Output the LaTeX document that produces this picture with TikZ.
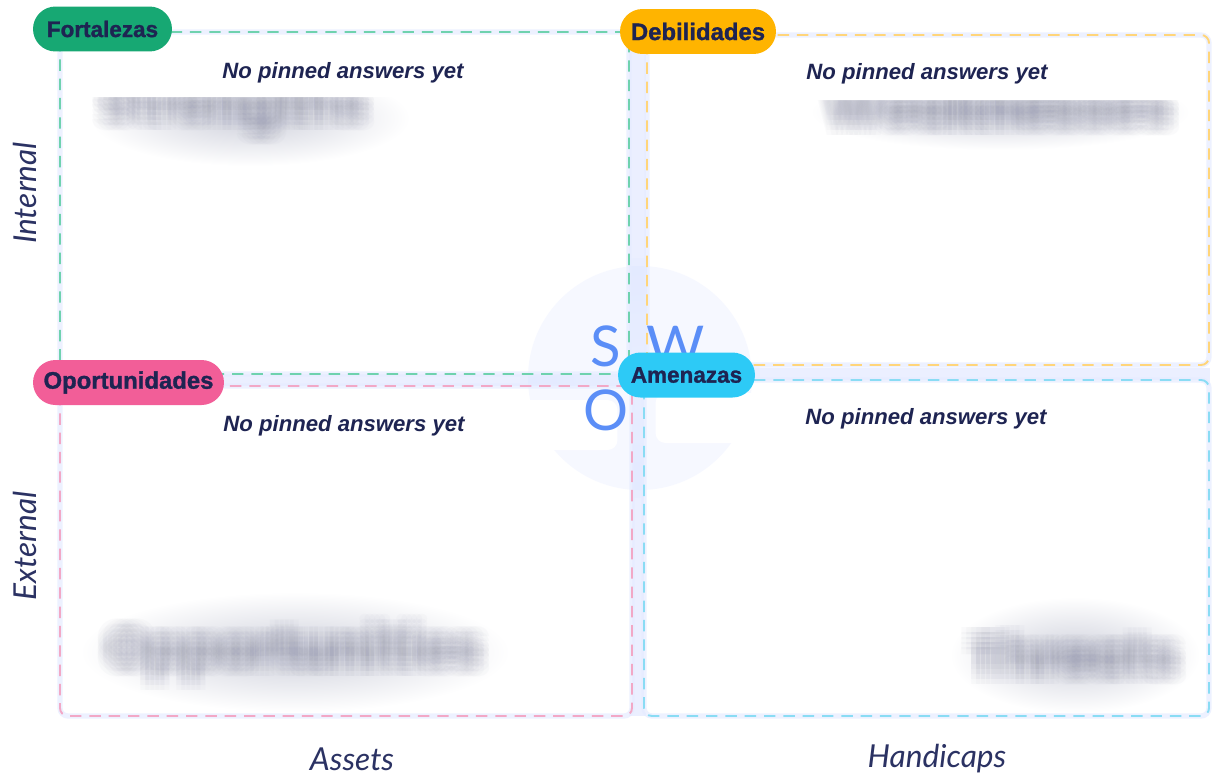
\documentclass[tikz,border=0pt]{standalone}
\usepackage{fontspec}
\setmainfont{Liberation Sans}
\newfontfamily\latof{Lato}
\newfontfamily\popf{Poppins}
\newfontfamily\pillf[UprightFont={* Bold}, FakeBold=1.3]{Liberation Sans}
\usetikzlibrary{shadings}
\definecolor{navy}{HTML}{1E2452}
\definecolor{axisc}{HTML}{2B3263}
\definecolor{cgreen}{HTML}{17A873}
\definecolor{cyellow}{HTML}{FFB400}
\definecolor{cpink}{HTML}{F25E98}
\definecolor{ccyan}{HTML}{2DCAF6}
\definecolor{dgreen}{HTML}{6FD2AE}
\definecolor{dyellow}{HTML}{FFD57A}
\definecolor{dpink}{HTML}{F2A8C6}
\definecolor{dcyan}{HTML}{8ADCF4}
\definecolor{band}{HTML}{E6ECFF}
\definecolor{ring}{HTML}{D3DEFF}
\definecolor{swot}{HTML}{5B8EF7}
\definecolor{hazec}{HTML}{CFD1DC}
\definecolor{blurc}{HTML}{9496AC}
\tikzset{
  x=0.02cm, y=-0.02cm,
  quad/.style={dashed, dash pattern=on 6.5pt off 4.5pt, line width=1.1pt, rounded corners=0.16cm},
  glow/.style={draw=band, draw opacity=0.7, line width=3pt, rounded corners=0.16cm, fill=white},
  pill/.style={rounded corners=0.45cm, minimum height=0.9cm, inner sep=0pt, text=navy,
    font=\fontsize{12.8}{14}\selectfont\pillf},
  answerbox/.style={fill=white, rounded corners=0.2cm, draw=none},
  answer/.style={text=navy, font=\fontsize{12.6}{14}\selectfont\bfseries\itshape, inner sep=0pt},
  axislabel/.style={text=axisc, font=\fontsize{18}{20}\selectfont\latof\itshape, inner sep=0pt},
  blurtxt/.style={text=blurc, text opacity=0.04, font=\fontsize{30}{34}\selectfont\popf\bfseries, inner sep=0pt},
  letter/.style={text=swot, font=\fontsize{32}{36}\selectfont\latof, inner sep=0pt}
}
\begin{document}
\begin{tikzpicture}
\useasboundingbox (0,0) rectangle (1212,778);
\fill[white] (0,0) rectangle (1212,778);
% center circle with glow
\fill[band, opacity=0.5] (640,378) circle (120);
\shade[inner color=white, outer color=ring] (640,378) circle (112);
% light bands between quadrants
\fill[band, opacity=0.8] (629,40) rectangle (646,716);
\fill[band, opacity=0.8] (60,368) rectangle (1210,386);
% quadrant glows (white interior, bluish edge)
\path[glow] (60,32) rectangle (629,374);
\path[glow] (647,35) rectangle (1209,365);
\path[glow] (60,386) rectangle (632,716);
\path[glow] (644,380) rectangle (1209,716);
% circle seen through the quadrants
\fill[band, opacity=0.35] (640,378) circle (112);
% blurred watermark words
\shade[inner color=hazec, outer color=white] (250,118) ellipse (160 and 48);
\shade[inner color=hazec, outer color=white] (1000,112) ellipse (190 and 38);
\shade[inner color=hazec, outer color=white] (295,652) ellipse (215 and 60);
\shade[inner color=hazec, outer color=white] (1075,655) ellipse (125 and 58);
\foreach \dx in {-10,-5,0,5,10}{\foreach \dy in {-10,-5,0,5,10}{
  \node[blurtxt, anchor=west] at (100+\dx,108+\dy) {Strengths};
  \node[blurtxt, anchor=east] at (1172+\dx,106+\dy) {Weaknesses};
  \node[blurtxt] at (294+\dx,652+\dy) {Opportunities};
  \node[blurtxt] at (1075+\dx,655+\dy) {Threats};
}}
% quadrant borders
\draw[quad, draw=dgreen] (60,32) rectangle (629,374);
\draw[quad, draw=dyellow] (647,35) rectangle (1209,365);
\draw[quad, draw=dpink] (60,386) rectangle (632,716);
\draw[quad, draw=dcyan] (644,380) rectangle (1209,716);
% SWOT letters
\node[letter] (ls) at (606,346) {S};
\node[letter] (lw) at (676,346) {W};
% answer boxes
\node[answerbox, minimum width=11cm, minimum height=1cm] (bs) at (350,72) {};
\node[answerbox, minimum width=10.8cm, minimum height=1cm] (bw) at (926,75) {};
\node[answerbox, minimum width=10.9cm, minimum height=1cm] (bo) at (345,425) {};
\node[answerbox, minimum width=10.9cm, minimum height=1cm] (bt) at (928,418) {};
\node[answer] (ts) at (343,73) {No pinned answers yet};
\node[answer] (tw) at (927,74) {No pinned answers yet};
\node[answer] (to) at (344,426) {No pinned answers yet};
\node[answer] (tt) at (926,419) {No pinned answers yet};
\node[letter] (lo) at (606,410) {O};
% pills
\node[pill, fill=cgreen, minimum width=2.78cm] (pf) at (102.5,29) {Fortalezas};
\node[pill, fill=cyellow, minimum width=3.12cm] (pd) at (698,31.5) {\fontsize{13.6}{15}\selectfont Debilidades};
\node[pill, fill=cpink, minimum width=3.82cm] (po) at (128.5,382.5) {\fontsize{13.6}{15}\selectfont Oportunidades};
\node[pill, fill=ccyan, minimum width=2.74cm] (pa) at (686.5,375) {Amenazas};
% axis labels
\node[axislabel, rotate=90] (li) at (25,193) {Internal};
\node[axislabel, rotate=90] (le) at (25,546) {External};
\node[axislabel] (la) at (352,759) {Assets};
\node[axislabel] (lh) at (937,759) {Handicaps};
\end{tikzpicture}
\end{document}
